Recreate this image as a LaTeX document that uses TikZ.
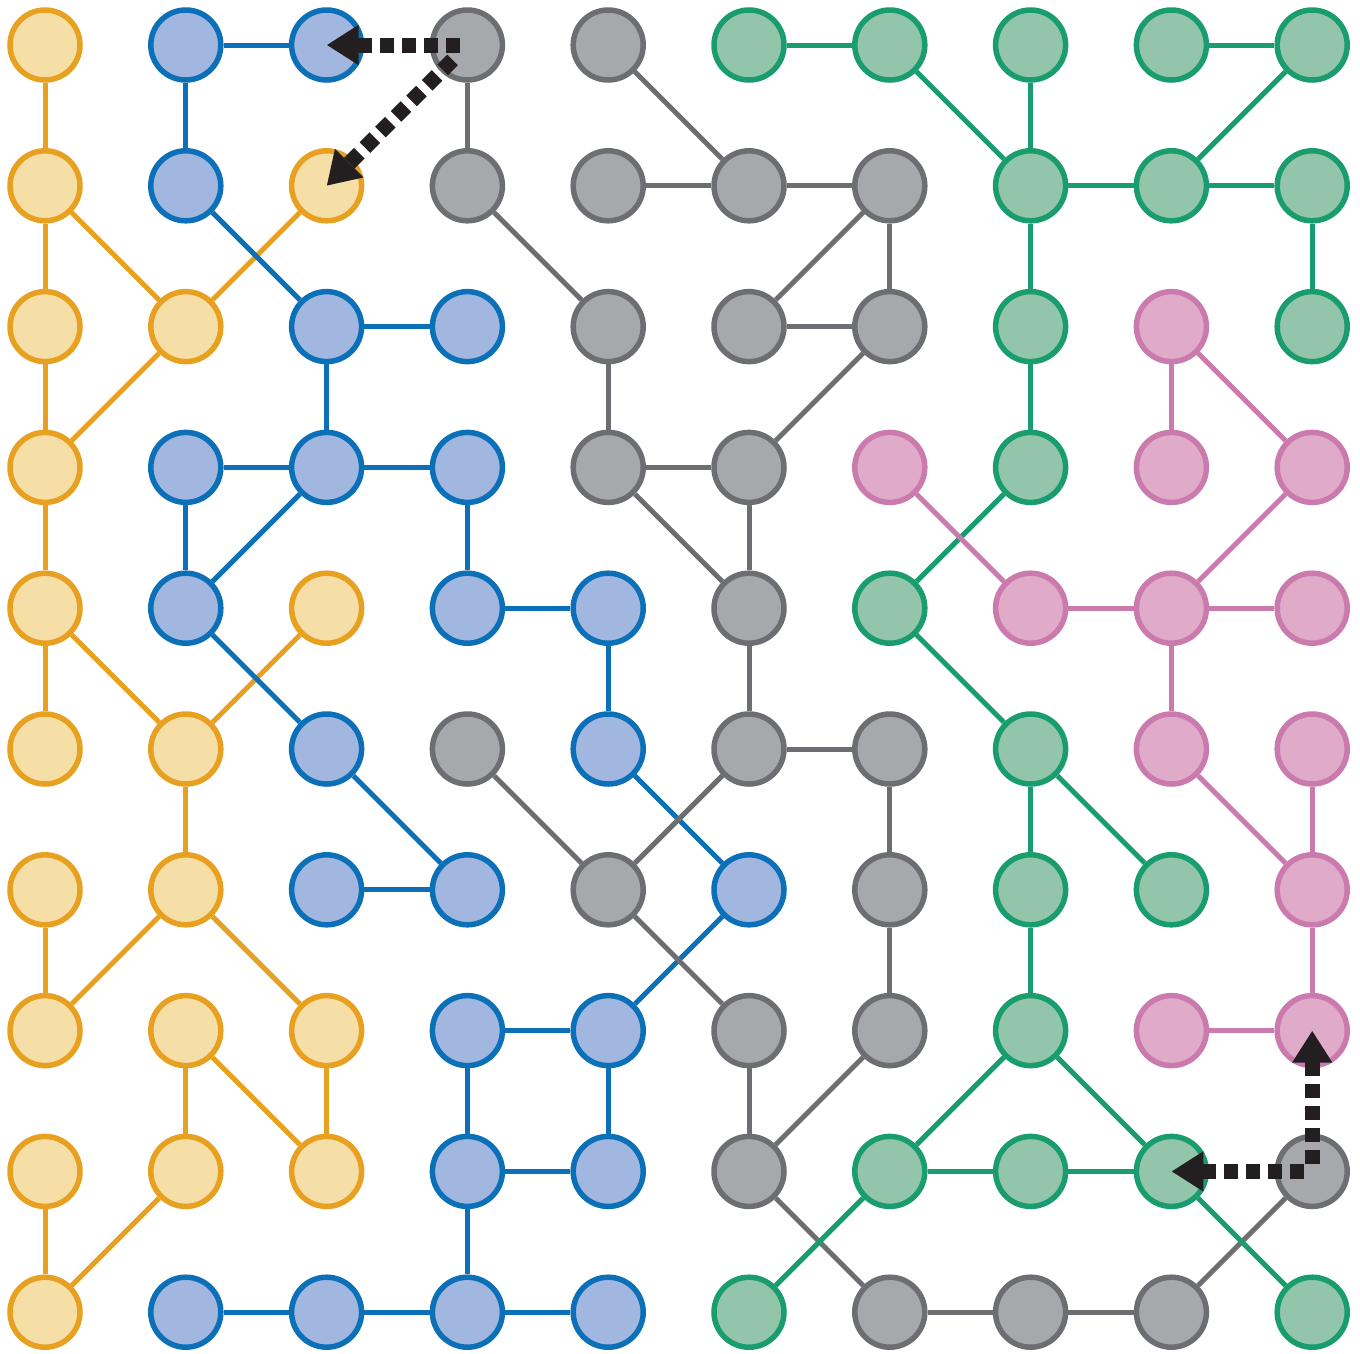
\documentclass[tikz,border=0pt]{standalone}
\usetikzlibrary{arrows.meta,backgrounds}
\definecolor{YF}{HTML}{F6DFA7}\definecolor{YS}{HTML}{E8A021}
\definecolor{BF}{HTML}{A2B7DF}\definecolor{BS}{HTML}{0B70B7}
\definecolor{GF}{HTML}{A7A8AC}\definecolor{GS}{HTML}{6D6E71}
\definecolor{NF}{HTML}{93C5AA}\definecolor{NS}{HTML}{199C6E}
\definecolor{PF}{HTML}{DFABC9}\definecolor{PS}{HTML}{CB7AAE}
\definecolor{arrk}{HTML}{231F20}
\tikzset{
  nd/.style={circle, minimum size=70pt, inner sep=0pt, line width=5.5pt},
  eY/.style={draw=YS, line width=5pt},
  eB/.style={draw=BS, line width=5pt},
  eG/.style={draw=GS, line width=5pt},
  eN/.style={draw=NS, line width=5pt},
  eP/.style={draw=PS, line width=5pt},
  darr/.style={draw=arrk, line width=15pt, dash pattern=on 14pt off 8pt,
    -{Triangle[length=32pt,width=38pt]}}
}
\begin{document}
\begin{tikzpicture}[x=1pt,y=-1pt]
\useasboundingbox (0,0) rectangle (1360,1353);
\foreach \row [count=\r from 0] in {
  {Y,B,B,G,G,N,N,N,N,N},
  {Y,B,Y,G,G,G,G,N,N,N},
  {Y,Y,B,B,G,G,G,N,P,N},
  {Y,B,B,B,G,G,P,N,P,P},
  {Y,B,Y,B,B,G,N,P,P,P},
  {Y,Y,B,G,B,G,G,N,P,P},
  {Y,Y,B,B,G,B,G,N,N,P},
  {Y,Y,Y,B,B,G,G,N,P,P},
  {Y,Y,Y,B,B,G,N,N,N,G},
  {Y,B,B,B,B,N,G,G,G,N}} {
  \foreach \c [count=\k from 0] in \row {
    \node[nd, draw=\c S, fill=\c F] (n\r\k) at (45+\k*140.8, 45+\r*140.8) {};
  }
}
\begin{scope}[on background layer]
% yellow
\foreach \a/\b in {00/10,10/20,10/21,20/30,21/12,21/30,30/40,40/50,40/51,51/42,51/61,61/70,61/72,60/70,71/81,71/82,72/82,81/90,80/90}
  \draw[eY] (n\a) -- (n\b);
% blue
\foreach \a/\b in {01/02,01/11,11/22,22/23,22/32,31/32,32/33,31/41,32/41,33/43,43/44,44/54,41/52,52/63,62/63,54/65,65/74,73/74,73/83,74/84,83/84,83/93,91/92,92/93,93/94}
  \draw[eB] (n\a) -- (n\b);
% gray
\foreach \a/\b in {03/13,04/15,14/15,15/16,16/25,16/26,25/26,13/24,24/34,26/35,34/35,34/45,35/45,45/55,55/56,55/64,53/64,64/75,56/66,66/76,75/85,76/85,85/96,96/97,97/98,98/89}
  \draw[eG] (n\a) -- (n\b);
% green
\foreach \a/\b in {05/06,06/17,07/17,08/09,09/18,17/18,18/19,19/29,17/27,27/37,37/46,46/57,57/67,57/68,67/77,77/86,77/88,86/87,87/88,86/95,88/99}
  \draw[eN] (n\a) -- (n\b);
% pink
\foreach \a/\b in {28/38,28/39,36/47,39/48,47/48,48/49,48/58,58/69,59/69,69/79,78/79}
  \draw[eP] (n\a) -- (n\b);
\end{scope}
% dashed arrows
\draw[darr, shorten <=7pt] (n03.center) -- (n02.center);
\draw[darr, shorten <=21pt] (n03.center) -- (n12.center);
\draw[darr, shorten <=8pt] (n89.center) -- (n88.center);
\draw[darr, shorten <=7pt] (n89.center) -- (n79.center);
\end{tikzpicture}
\end{document}
